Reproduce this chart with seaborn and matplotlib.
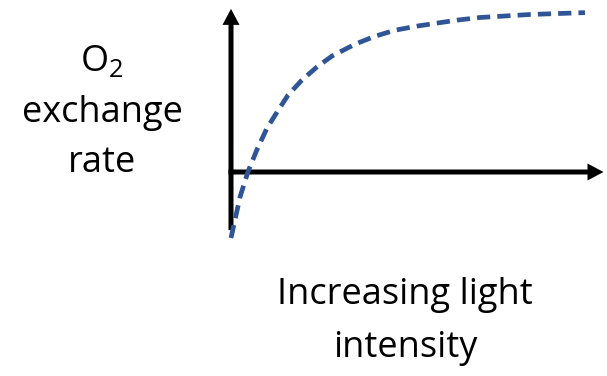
import numpy as np
import pandas as pd
import matplotlib
matplotlib.use("Agg")
import matplotlib.pyplot as plt
import seaborn as sns

# curve (arbitrary units, axes cross at 0,0)
light = [0.0, 0.24, 0.45, 0.69, 0.96, 1.23, 1.52, 1.89, 2.29, 2.69,
         3.31, 3.84, 4.37, 4.96, 5.49, 6.03, 6.64, 7.97, 9.44]
o2_rate = [-1.76, -0.67, 0.0, 0.59, 1.17, 1.60, 2.05, 2.45, 2.80, 3.09,
           3.41, 3.62, 3.78, 3.89, 3.97, 4.05, 4.12, 4.20, 4.25]

y_label = ["O$_2$", "exchange", "rate"]
x_label = ["Increasing light", "intensity"]

sns.set_theme(style="white")
plt.rcParams['font.family'] = ['Open Sans', 'DejaVu Sans']
plt.rcParams['mathtext.fontset'] = 'custom'
plt.rcParams['mathtext.rm'] = 'Open Sans'

W, H = 607, 376
fig = plt.figure(figsize=(W / 100, H / 100), dpi=100)
ax = fig.add_axes([0, 0, 1, 1])

# 37.5 px per unit, origin at pixel (231, 172)
s = 37.5
ox, oy = 231, 172
ax.set_xlim(-ox / s, (W - ox) / s)
ax.set_ylim(-(H - oy) / s, oy / s)
ax.axis('off')

# axes arrows
ax.arrow(0, -1.55, 0, 4.35 + 1.55, width=5 / s, head_width=17 / s,
         head_length=16 / s, length_includes_head=True, color='black', lw=0)
ax.arrow(-2.5 / s, 0, 10.0, 0, width=5 / s, head_width=17 / s,
         head_length=16 / s, length_includes_head=True, color='black', lw=0)

df = pd.DataFrame({'light': light, 'rate': o2_rate})
sns.lineplot(data=df, x='light', y='rate', sort=False, ax=ax,
             color='#2F5597', lw=3.4, linestyle=(0, (2.8, 1.5)),
             dash_capstyle='butt')

fs = 26
ys = [62, 113, 163]
for txt, y in zip(y_label, ys):
    fig.text(102 / W, 1 - y / H, txt, ha='center', va='center',
             fontsize=fs, color='black')
for txt, y in zip(x_label, [295, 348]):
    fig.text(405 / W, 1 - y / H, txt, ha='center', va='center',
             fontsize=fs, color='black')

fig.savefig('out.png', dpi=100)
